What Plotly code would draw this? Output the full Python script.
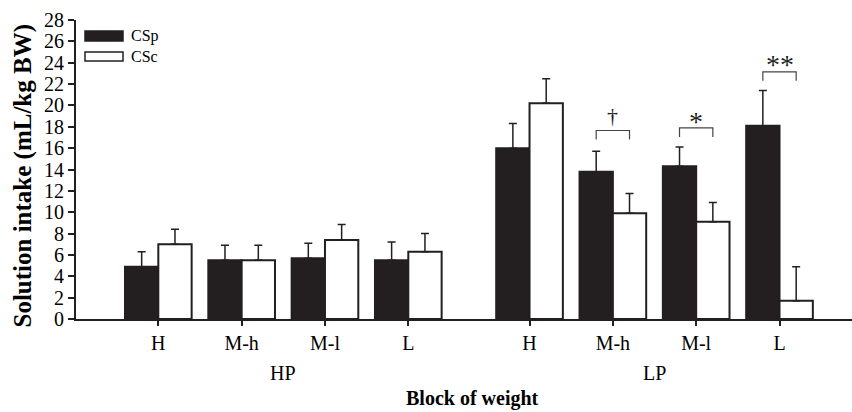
import plotly.graph_objects as go

# ---- data ----
blocks = ["H", "M-h", "M-l", "L"]
diets = ["HP", "LP"]
csp_hp = [4.9, 5.5, 5.7, 5.5]
csp_hp_err = [1.4, 1.4, 1.4, 1.7]
csc_hp = [7.0, 5.5, 7.4, 6.3]
csc_hp_err = [1.4, 1.4, 1.45, 1.7]
csp_lp = [16.0, 13.8, 14.3, 18.1]
csp_lp_err = [2.3, 1.9, 1.8, 3.3]
csc_lp = [20.2, 9.9, 9.1, 1.7]
csc_lp_err = [2.3, 1.85, 1.8, 3.2]
sig_block = [1, 2, 3]          # LP blocks with a marked difference
sig_text = ["†", "*", "**"]
sig_level = [17.65, 17.9, 23.15]  # bracket height (mL/kg BW)
sig_mark_y = [19.1, 18.9, 24.2]   # centre of the significance mark
y_ticks = list(range(0, 29, 2))

# ---- layout constants ----
DARK = "#231f20"
FONT = "Liberation Serif, Times New Roman, serif"
GAP = 1.455              # extra spacing between HP and LP groups (in block units)
W, H = 852, 412
ML, MR, MT, MB = 76, 0, 20, 93
PW, PH = W - ML - MR, H - MT - MB

n = len(blocks)
x_hp = [i for i in range(n)]
x_lp = [n - 1 + GAP + i for i in range(n)]
xs = x_hp + x_lp

csp = csp_hp + csp_lp
csp_err = csp_hp_err + csp_lp_err
csc = csc_hp + csc_lp
csc_err = csc_hp_err + csc_lp_err

x0 = -0.988
x1 = 8.325

def px_to_paper_x(px):
    return (px - ML) / PW

def px_to_paper_y(py):
    return (H - MB - py) / PH

fig = go.Figure()
err_style = dict(type="data", symmetric=False, color=DARK, thickness=1.5, width=4)
fig.add_trace(go.Bar(
    x=xs, y=csp, name="CSp",
    marker=dict(color=DARK, line=dict(color=DARK, width=2)),
    error_y=dict(array=csp_err, arrayminus=[0] * len(csp), **err_style),
))
fig.add_trace(go.Bar(
    x=xs, y=csc, name="CSc",
    marker=dict(color="white", line=dict(color=DARK, width=2)),
    error_y=dict(array=csc_err, arrayminus=[0] * len(csc), **err_style),
))

shapes = []
annotations = []
half = 0.2  # bar center offset with bargap 0.2 and two bars
for b, t, lvl, my in zip(sig_block, sig_text, sig_level, sig_mark_y):
    xc = x_lp[b]
    xa, xb = xc - half, xc + half
    leg = 0.85
    shapes.append(dict(type="path", xref="x", yref="y",
                       path=f"M {xa},{lvl - leg} L {xa},{lvl} L {xb},{lvl} L {xb},{lvl - leg}",
                       line=dict(color="#444", width=1.2)))
    is_star = "*" in t
    annotations.append(dict(x=xc, y=my - (0.4 if is_star else 0.0), xref="x", yref="y",
                            text=t, showarrow=False, yanchor="middle",
                            font=dict(family=FONT, size=28 if is_star else 22, color=DARK)))

# group labels
for d, grp in zip(diets, [x_hp, x_lp]):
    annotations.append(dict(x=(grp[0] + grp[-1]) / 2, y=px_to_paper_y(373), xref="x", yref="paper",
                            text=d, showarrow=False, yanchor="middle",
                            font=dict(family=FONT, size=20, color="black")))
annotations.append(dict(x=px_to_paper_x(472), y=px_to_paper_y(398), xref="paper", yref="paper",
                        text="<b>Block of weight</b>", showarrow=False, yanchor="middle",
                        font=dict(family=FONT, size=20, color="black")))
annotations.append(dict(x=px_to_paper_x(22), y=px_to_paper_y(175.5), xref="paper", yref="paper",
                        text="<b>Solution intake (mL/kg BW)</b>", showarrow=False, textangle=-90,
                        xanchor="center", yanchor="middle",
                        font=dict(family=FONT, size=25, color="black")))

# custom legend
legend_items = [("CSp", DARK, 31, 41), ("CSc", "white", 52, 61)]
for name, col, ya, yb in legend_items:
    shapes.append(dict(type="rect", xref="paper", yref="paper",
                       x0=px_to_paper_x(85), x1=px_to_paper_x(123),
                       y0=px_to_paper_y(yb), y1=px_to_paper_y(ya),
                       fillcolor=col, line=dict(color=DARK, width=1.5)))
    annotations.append(dict(x=px_to_paper_x(129), y=px_to_paper_y((ya + yb) / 2),
                            xref="paper", yref="paper", text=name, showarrow=False,
                            xanchor="left", yanchor="middle",
                            font=dict(family=FONT, size=16, color="black")))

fig.update_layout(
    width=W, height=H,
    margin=dict(l=ML, r=MR, t=MT, b=MB, pad=0),
    paper_bgcolor="white", plot_bgcolor="white",
    barmode="group", bargap=0.2, bargroupgap=0,
    showlegend=False,
    shapes=shapes, annotations=annotations,
    font=dict(family=FONT, color="black"),
)
fig.update_xaxes(
    range=[x0, x1], tickvals=xs, ticktext=blocks * 2,
    showline=True, linecolor=DARK, linewidth=2,
    ticks="outside", ticklen=5, tickwidth=1.5, tickcolor=DARK,
    tickfont=dict(family=FONT, size=20, color="black"),
    showgrid=False, zeroline=False,
)
fig.update_yaxes(
    range=[0, 28], tickvals=y_ticks,
    showline=True, linecolor=DARK, linewidth=2,
    ticks="outside", ticklen=6, tickwidth=1.5, tickcolor=DARK,
    tickfont=dict(family=FONT, size=20, color="black"),
    showgrid=False, zeroline=False,
)

fig.write_html(
    "out.html",
    config={"displayModeBar": False},
    post_script="document.body.style.margin='0';document.body.style.overflow='hidden';",
)
